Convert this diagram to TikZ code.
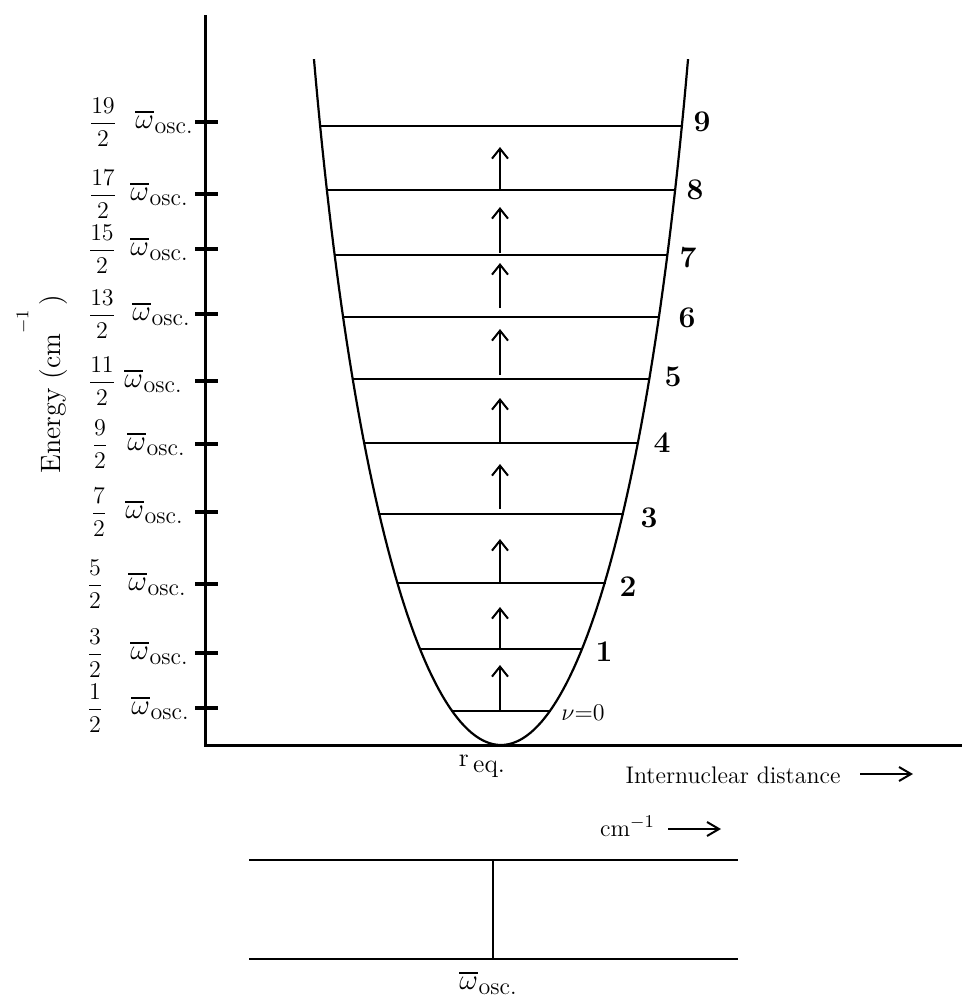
\documentclass[tikz,border=0pt]{standalone}
\usepackage{amsmath}
\usetikzlibrary{arrows.meta,calc}
\newcommand{\wosc}{{\fontsize{15}{15}\selectfont$\overline{\omega}$}\kern0.3pt\raisebox{-0.5ex}{osc.}}
\begin{document}
\begin{tikzpicture}[x=0.5pt,y=-0.5pt,
  axis/.style={line width=1.5pt},
  tickmark/.style={line width=1.8pt},
  lvl/.style={line width=1pt},
  well/.style={line width=1.1pt},
  uparr/.style={line width=1pt,-{Straight Barb[length=5pt,width=8pt]}},
  txtarr/.style={line width=1pt,-{Straight Barb[length=6pt,width=7pt]}},
  num/.style={font=\fontsize{15}{17}\selectfont\bfseries, inner sep=0pt},
  lab/.style={font=\fontsize{12}{14}\selectfont, inner sep=0pt},
  frac/.style={font=\fontsize{11.5}{14}\selectfont, inner sep=0pt},
]
\useasboundingbox (0,0) rectangle (962,998);

% axes
\coordinate (ytop) at (205,15);
\coordinate (origin) at (205,745);
\coordinate (xend) at (962,745);
\draw[axis] (ytop) -- (origin) -- (xend);

% ticks and labels
\foreach \y/\n/\px/\wx in {122/19/103/135, 194/17/103/130, 249/15/102/130, 314/13/102/132, 381/11/102/124, 444/9/100/127, 512/7/99/125, 584/5/95/128, 653/3/95/130, 708/1/95/131}{
  \coordinate (t\n) at (205,\y);
  \draw[tickmark] ($(t\n)+(-10,0)$) -- ($(t\n)+(13,0)$);
  \node[frac] (f\n) at (\px,\y) {$\dfrac{\n}{2}$};
  \node[lab,anchor=west] (w\n) at (\wx,\y) {\wosc};
}

% y label
\node[lab,rotate=90,font=\fontsize{14}{16}\selectfont] (ylab) at (42,384) {Energy (cm\raisebox{16pt}{\small$-$1}\,)};

% potential well
\draw[well] plot[domain=-26.19:26.19, samples=121, variable=\s] ({501+\s*(8.45-0.0019*\s*\s)}, {745-\s*\s});

% levels
\foreach \v/\y/\hw in {0/711/50, 1/649/82, 2/583/104.5, 3/514/122.8, 4/443/137.9, 5/379/149.4, 6/317/159, 7/255/167.4, 8/190/175.2, 9/126/182}{
  \coordinate (L\v) at (501,\y);
  \draw[lvl] ($(L\v)+(-\hw,0)$) -- ($(L\v)+(\hw,0)$);
}

% transition arrows
\foreach \v/\b/\t in {0/711/665, 1/649/607, 2/583/539, 3/509/464, 4/442/398, 5/375/329, 6/308/263, 7/253/207, 8/190/147}{
  \coordinate (A\v) at (500,\b);
  \coordinate (B\v) at (500,\t);
  \draw[uparr] (A\v) -- (B\v);
}

% level numbers
\foreach \v/\x/\y in {9/702/122, 8/695/190, 7/688/258, 6/687/318, 5/673/377, 4/662/443, 3/649/518, 2/628/587, 1/604/652}{
  \node[num] (n\v) at (\x,\y) {\v};
}
\node[lab] (n0) at (583,713) {$\nu$=0};

% r eq.
\node[lab,font=\fontsize{13}{15}\selectfont] (req) at (482,766) {r\,\raisebox{-0.5ex}{eq.}};

% internuclear distance
\node[lab] (idist) at (733,775) {Internuclear distance};
\coordinate (ia1) at (860,774);
\coordinate (ia2) at (913,774);
\draw[txtarr] (ia1) -- (ia2);

% cm^-1
\node[lab] (cmlab) at (627,826) {cm\raisebox{0.9ex}{\small$-$1}};
\coordinate (ca1) at (668,829);
\coordinate (ca2) at (721,829);
\draw[txtarr] (ca1) -- (ca2);

% spectrum
\coordinate (b1) at (249,860);
\coordinate (b2) at (738,860);
\coordinate (b3) at (249,959);
\coordinate (b4) at (738,959);
\coordinate (bt) at (493,860);
\coordinate (bb) at (493,959);
\draw[lvl] (b1) -- (b2);
\draw[lvl] (b3) -- (b4);
\draw[lvl] (bt) -- (bb);
\node[lab] (blab) at (488,983) {\wosc};
\end{tikzpicture}
\end{document}
